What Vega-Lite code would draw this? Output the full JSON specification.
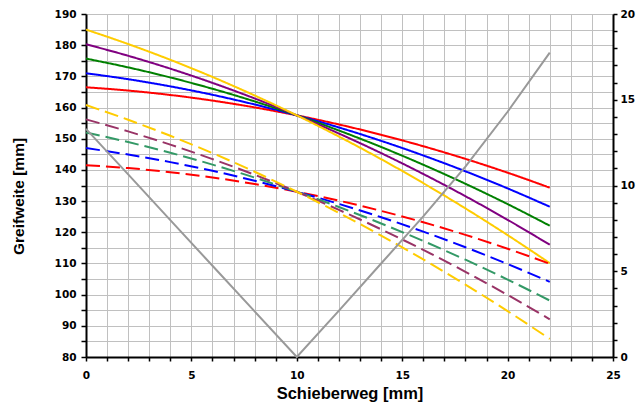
{
  "$schema": "https://vega.github.io/schema/vega-lite/v6.json",
  "width": 527,
  "height": 343,
  "autosize": "none",
  "padding": {"left": 86, "top": 14, "right": 30, "bottom": 48},
  "background": "white",
  "config": {
    "view": {"stroke": null},
    "axis": {
      "domainColor": "black",
      "domainWidth": 2,
      "tickColor": "black",
      "tickWidth": 1.5,
      "gridColor": "#c0c0c0",
      "gridWidth": 1,
      "labelFont": "DejaVu Sans",
      "labelFontWeight": "bold",
      "labelFontSize": 10.5,
      "labelColor": "black",
      "titleFont": "Liberation Sans",
      "titleFontWeight": "bold",
      "titleFontSize": 15.5,
      "titleColor": "black"
    }
  },
  "datasets": {
    "curves": [
      {"x": 0, "y": 166.5, "s": "S1", "t": "solid"},
      {"x": 2, "y": 165.45, "s": "S1", "t": "solid"},
      {"x": 4, "y": 164.03, "s": "S1", "t": "solid"},
      {"x": 6, "y": 162.23, "s": "S1", "t": "solid"},
      {"x": 8, "y": 160.05, "s": "S1", "t": "solid"},
      {"x": 10, "y": 157.5, "s": "S1", "t": "solid"},
      {"x": 12, "y": 154.57, "s": "S1", "t": "solid"},
      {"x": 14, "y": 151.27, "s": "S1", "t": "solid"},
      {"x": 16, "y": 147.59, "s": "S1", "t": "solid"},
      {"x": 18, "y": 143.54, "s": "S1", "t": "solid"},
      {"x": 20, "y": 139.11, "s": "S1", "t": "solid"},
      {"x": 22, "y": 134.3, "s": "S1", "t": "solid"},
      {"x": 0, "y": 171, "s": "S2", "t": "solid"},
      {"x": 2, "y": 169.09, "s": "S2", "t": "solid"},
      {"x": 4, "y": 166.79, "s": "S2", "t": "solid"},
      {"x": 6, "y": 164.09, "s": "S2", "t": "solid"},
      {"x": 8, "y": 160.99, "s": "S2", "t": "solid"},
      {"x": 10, "y": 157.5, "s": "S2", "t": "solid"},
      {"x": 12, "y": 153.61, "s": "S2", "t": "solid"},
      {"x": 14, "y": 149.32, "s": "S2", "t": "solid"},
      {"x": 16, "y": 144.63, "s": "S2", "t": "solid"},
      {"x": 18, "y": 139.55, "s": "S2", "t": "solid"},
      {"x": 20, "y": 134.07, "s": "S2", "t": "solid"},
      {"x": 22, "y": 128.2, "s": "S2", "t": "solid"},
      {"x": 0, "y": 175.7, "s": "S3", "t": "solid"},
      {"x": 2, "y": 172.88, "s": "S3", "t": "solid"},
      {"x": 4, "y": 169.65, "s": "S3", "t": "solid"},
      {"x": 6, "y": 166.02, "s": "S3", "t": "solid"},
      {"x": 8, "y": 161.97, "s": "S3", "t": "solid"},
      {"x": 10, "y": 157.5, "s": "S3", "t": "solid"},
      {"x": 12, "y": 152.63, "s": "S3", "t": "solid"},
      {"x": 14, "y": 147.35, "s": "S3", "t": "solid"},
      {"x": 16, "y": 141.66, "s": "S3", "t": "solid"},
      {"x": 18, "y": 135.55, "s": "S3", "t": "solid"},
      {"x": 20, "y": 129.04, "s": "S3", "t": "solid"},
      {"x": 22, "y": 122.1, "s": "S3", "t": "solid"},
      {"x": 0, "y": 180.3, "s": "S4", "t": "solid"},
      {"x": 2, "y": 176.6, "s": "S4", "t": "solid"},
      {"x": 4, "y": 172.47, "s": "S4", "t": "solid"},
      {"x": 6, "y": 167.91, "s": "S4", "t": "solid"},
      {"x": 8, "y": 162.92, "s": "S4", "t": "solid"},
      {"x": 10, "y": 157.5, "s": "S4", "t": "solid"},
      {"x": 12, "y": 151.66, "s": "S4", "t": "solid"},
      {"x": 14, "y": 145.39, "s": "S4", "t": "solid"},
      {"x": 16, "y": 138.69, "s": "S4", "t": "solid"},
      {"x": 18, "y": 131.56, "s": "S4", "t": "solid"},
      {"x": 20, "y": 124.0, "s": "S4", "t": "solid"},
      {"x": 22, "y": 116.0, "s": "S4", "t": "solid"},
      {"x": 0, "y": 185, "s": "S5", "t": "solid"},
      {"x": 2, "y": 180.37, "s": "S5", "t": "solid"},
      {"x": 4, "y": 175.31, "s": "S5", "t": "solid"},
      {"x": 6, "y": 169.81, "s": "S5", "t": "solid"},
      {"x": 8, "y": 163.87, "s": "S5", "t": "solid"},
      {"x": 10, "y": 157.5, "s": "S5", "t": "solid"},
      {"x": 12, "y": 150.69, "s": "S5", "t": "solid"},
      {"x": 14, "y": 143.45, "s": "S5", "t": "solid"},
      {"x": 16, "y": 135.76, "s": "S5", "t": "solid"},
      {"x": 18, "y": 127.65, "s": "S5", "t": "solid"},
      {"x": 20, "y": 119.09, "s": "S5", "t": "solid"},
      {"x": 22, "y": 110.1, "s": "S5", "t": "solid"},
      {"x": 0, "y": 141.5, "s": "D1", "t": "dashed"},
      {"x": 2, "y": 140.58, "s": "D1", "t": "dashed"},
      {"x": 4, "y": 139.27, "s": "D1", "t": "dashed"},
      {"x": 6, "y": 137.57, "s": "D1", "t": "dashed"},
      {"x": 8, "y": 135.48, "s": "D1", "t": "dashed"},
      {"x": 10, "y": 133.0, "s": "D1", "t": "dashed"},
      {"x": 12, "y": 130.13, "s": "D1", "t": "dashed"},
      {"x": 14, "y": 126.86, "s": "D1", "t": "dashed"},
      {"x": 16, "y": 123.21, "s": "D1", "t": "dashed"},
      {"x": 18, "y": 119.16, "s": "D1", "t": "dashed"},
      {"x": 20, "y": 114.73, "s": "D1", "t": "dashed"},
      {"x": 22, "y": 109.9, "s": "D1", "t": "dashed"},
      {"x": 0, "y": 147, "s": "D2", "t": "dashed"},
      {"x": 2, "y": 144.93, "s": "D2", "t": "dashed"},
      {"x": 4, "y": 142.5, "s": "D2", "t": "dashed"},
      {"x": 6, "y": 139.7, "s": "D2", "t": "dashed"},
      {"x": 8, "y": 136.53, "s": "D2", "t": "dashed"},
      {"x": 10, "y": 133.0, "s": "D2", "t": "dashed"},
      {"x": 12, "y": 129.1, "s": "D2", "t": "dashed"},
      {"x": 14, "y": 124.83, "s": "D2", "t": "dashed"},
      {"x": 16, "y": 120.2, "s": "D2", "t": "dashed"},
      {"x": 18, "y": 115.2, "s": "D2", "t": "dashed"},
      {"x": 20, "y": 109.83, "s": "D2", "t": "dashed"},
      {"x": 22, "y": 104.1, "s": "D2", "t": "dashed"},
      {"x": 0, "y": 152, "s": "D3", "t": "dashed"},
      {"x": 2, "y": 148.93, "s": "D3", "t": "dashed"},
      {"x": 4, "y": 145.5, "s": "D3", "t": "dashed"},
      {"x": 6, "y": 141.7, "s": "D3", "t": "dashed"},
      {"x": 8, "y": 137.53, "s": "D3", "t": "dashed"},
      {"x": 10, "y": 133.0, "s": "D3", "t": "dashed"},
      {"x": 12, "y": 128.1, "s": "D3", "t": "dashed"},
      {"x": 14, "y": 122.83, "s": "D3", "t": "dashed"},
      {"x": 16, "y": 117.2, "s": "D3", "t": "dashed"},
      {"x": 18, "y": 111.2, "s": "D3", "t": "dashed"},
      {"x": 20, "y": 104.83, "s": "D3", "t": "dashed"},
      {"x": 22, "y": 98.1, "s": "D3", "t": "dashed"},
      {"x": 0, "y": 156.2, "s": "D4", "t": "dashed"},
      {"x": 2, "y": 152.35, "s": "D4", "t": "dashed"},
      {"x": 4, "y": 148.11, "s": "D4", "t": "dashed"},
      {"x": 6, "y": 143.47, "s": "D4", "t": "dashed"},
      {"x": 8, "y": 138.43, "s": "D4", "t": "dashed"},
      {"x": 10, "y": 133.0, "s": "D4", "t": "dashed"},
      {"x": 12, "y": 127.17, "s": "D4", "t": "dashed"},
      {"x": 14, "y": 120.95, "s": "D4", "t": "dashed"},
      {"x": 16, "y": 114.33, "s": "D4", "t": "dashed"},
      {"x": 18, "y": 107.32, "s": "D4", "t": "dashed"},
      {"x": 20, "y": 99.91, "s": "D4", "t": "dashed"},
      {"x": 22, "y": 92.1, "s": "D4", "t": "dashed"},
      {"x": 0, "y": 160.8, "s": "D5", "t": "dashed"},
      {"x": 2, "y": 156.08, "s": "D5", "t": "dashed"},
      {"x": 4, "y": 150.94, "s": "D5", "t": "dashed"},
      {"x": 6, "y": 145.38, "s": "D5", "t": "dashed"},
      {"x": 8, "y": 139.4, "s": "D5", "t": "dashed"},
      {"x": 10, "y": 133.0, "s": "D5", "t": "dashed"},
      {"x": 12, "y": 126.18, "s": "D5", "t": "dashed"},
      {"x": 14, "y": 118.94, "s": "D5", "t": "dashed"},
      {"x": 16, "y": 111.28, "s": "D5", "t": "dashed"},
      {"x": 18, "y": 103.21, "s": "D5", "t": "dashed"},
      {"x": 20, "y": 94.71, "s": "D5", "t": "dashed"},
      {"x": 22, "y": 85.8, "s": "D5", "t": "dashed"}
    ],
    "gray": [
      {"x": 0, "r": 13.3},
      {"x": 2, "r": 10.65},
      {"x": 4, "r": 7.98},
      {"x": 6, "r": 5.32},
      {"x": 8, "r": 2.66},
      {"x": 10, "r": 0},
      {"x": 12, "r": 2.7},
      {"x": 14, "r": 5.45},
      {"x": 16, "r": 8.2},
      {"x": 18, "r": 11.1},
      {"x": 20, "r": 14.3},
      {"x": 22, "r": 17.75}
    ]
  },
  "encoding": {
    "x": {
      "field": "x",
      "type": "quantitative",
      "scale": {"domain": [0, 25], "nice": false},
      "axis": {
        "title": "Schieberweg [mm]",
        "values": [0,1,2,3,4,5,6,7,8,9,10,11,12,13,14,15,16,17,18,19,20,21,22,23,24,25],
        "labelExpr": "datum.value % 5 === 0 ? datum.label : ''",
        "labelOverlap": false,
        "labelBound": false,
        "tickSize": 4,
        "labelPadding": 9,
        "labelFlush": false,
        "titleFontSize": 16.5,
        "titleX": 263.5,
        "titleY": 36,
        "titleBaseline": "middle"
      }
    }
  },
  "layer": [
    {
      "data": {"name": "curves"},
      "mark": {"type": "line", "strokeWidth": 2, "interpolate": "monotone"},
      "encoding": {
        "y": {
          "field": "y",
          "type": "quantitative",
          "scale": {"domain": [80, 190], "nice": false, "zero": false},
          "axis": {
            "title": "Greifweite [mm]",
            "values": [80,85,90,95,100,105,110,115,120,125,130,135,140,145,150,155,160,165,170,175,180,185,190],
            "labelExpr": "datum.value % 10 === 0 ? datum.label : ''",
            "labelOverlap": false,
            "tickSize": 5,
            "labelPadding": 5,
            "labelFlush": false,
            "titleX": -68,
            "titleY": 182,
            "titleAlign": "center",
            "titleBaseline": "middle",
            "titleAngle": -90
          }
        },
        "color": {
          "field": "s",
          "type": "nominal",
          "scale": {
            "domain": ["S1","S2","S3","S4","S5","D1","D2","D3","D4","D5"],
            "range": ["#FF0000","#0000FF","#008000","#800080","#FFCC00","#FF0000","#0000FF","#339966","#993366","#FFCC00"]
          },
          "legend": null
        },
        "strokeDash": {
          "field": "t",
          "type": "nominal",
          "scale": {"domain": ["solid","dashed"], "range": [[1,0],[14,6]]},
          "legend": null
        }
      }
    },
    {
      "data": {"name": "gray"},
      "mark": {"type": "line", "strokeWidth": 2, "color": "#999999", "interpolate": "linear"},
      "encoding": {
        "y": {
          "field": "r",
          "type": "quantitative",
          "scale": {"domain": [0, 20], "nice": false},
          "axis": {
            "orient": "right",
            "title": null,
            "grid": false,
            "values": [0,1,2,3,4,5,6,7,8,9,10,11,12,13,14,15,16,17,18,19,20],
            "labelExpr": "datum.value % 5 === 0 ? datum.label : ''",
            "labelOverlap": false,
            "tickSize": 4,
            "labelPadding": 3,
            "labelFlush": false
          }
        }
      }
    }
  ],
  "resolve": {"scale": {"y": "independent"}}
}
